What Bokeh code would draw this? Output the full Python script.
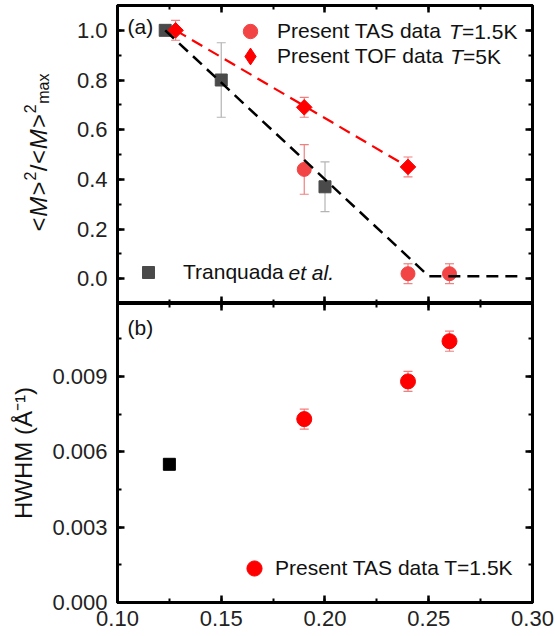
import math
from bokeh.plotting import figure
from bokeh.models import (ColumnDataSource, Whisker, TeeHead, Legend, LegendItem, Label,
                          LinearAxis, SingleIntervalTicker, NumeralTickFormatter, Range1d)
from bokeh.layouts import column, row
from bokeh.embed import file_html
from bokeh.resources import INLINE

# ---------------- data ----------------
# panel (a): normalised ordered moment squared
tas_x = [0.19, 0.24, 0.26]
tas_y = [0.44, 0.02, 0.02]
tas_err = [0.10, 0.04, 0.04]

tof_x = [0.128, 0.19, 0.24]
tof_y = [1.00, 0.69, 0.45]
tof_err = [0.04, 0.04, 0.04]

tranq_x = [0.123, 0.15, 0.20]
tranq_y = [1.00, 0.80, 0.37]
tranq_err = [0.0, 0.15, 0.10]

guide_black_x = [0.123, 0.25, 0.295]
guide_black_y = [1.00, 0.01, 0.01]
guide_red_x = [0.128, 0.24]
guide_red_y = [1.00, 0.45]

# panel (b): HWHM
hwhm_x = [0.19, 0.24, 0.26]
hwhm_y = [0.0073, 0.0088, 0.0104]
hwhm_err = [0.0004, 0.0004, 0.0004]
hwhm_tranq_x = [0.125]
hwhm_tranq_y = [0.0055]

# ---------------- style ----------------
FONT = "Liberation Sans"
TAS_RED = "#f24444"
RED = "#ff0000"
ERR_RED = "#f08080"
GRAY = "#4a4a4a"
ERR_GRAY = "#b4b4b4"
LEG_SIZE = "21px"
TXT = "#111111"
STRIP_W = 55   # width of the strip that carries the rotated title of panel (a)


def style_axis(ax, labels=True, fmt=None, standoff=10):
    ax.axis_line_width = 3
    ax.axis_line_color = "black"
    ax.major_tick_in = 7
    ax.major_tick_out = 0
    ax.minor_tick_in = 4
    ax.minor_tick_out = 0
    ax.major_tick_line_width = 2.5
    ax.minor_tick_line_width = 2
    ax.major_label_text_font = FONT
    if labels:
        ax.major_label_text_color = "#222222"
        ax.major_label_text_font_size = "22px"
        ax.major_label_standoff = standoff
    else:
        ax.major_label_text_color = None
        ax.major_label_text_font_size = "0px"
        ax.major_label_standoff = 0
    if fmt is not None:
        ax.formatter = NumeralTickFormatter(format=fmt)


def make_fig(width, height, yr, left_b, top_b, bottom_b):
    p = figure(width=width, height=height, x_range=xr, y_range=yr,
               output_backend="svg", toolbar_location=None,
               min_border_left=left_b, min_border_right=23,
               min_border_top=top_b, min_border_bottom=bottom_b,
               x_axis_location=None, y_axis_location=None)
    p.grid.visible = False
    p.outline_line_color = "black"
    p.outline_line_width = 3
    p.background_fill_color = "white"
    return p


def errbars(p, xs, ys, es, color):
    xs2 = [x for x, e in zip(xs, es) if e > 0]
    lo = [y - e for y, e in zip(ys, es) if e > 0]
    hi = [y + e for y, e in zip(ys, es) if e > 0]
    src = ColumnDataSource(dict(x=xs2, lo=lo, hi=hi))
    w = Whisker(source=src, base="x", lower="lo", upper="hi",
                line_color=color, line_width=1.2,
                upper_head=TeeHead(size=9, line_color=color, line_width=1.2),
                lower_head=TeeHead(size=9, line_color=color, line_width=1.2))
    w.level = "underlay"
    p.add_layout(w)


def one_legend(p, label, rend, cx, cy, g, text_x):
    """single-entry legend; marker centred at (cx, cy) frame px, text starting at text_x"""
    leg = Legend(items=[LegendItem(label=label, renderers=[rend])],
                 location=(int(round(cx - g / 2)), int(round(cy - g / 2))),
                 glyph_width=int(g), glyph_height=int(g), label_height=int(g),
                 label_standoff=int(round(text_x - (cx + g / 2))),
                 padding=0, margin=0, spacing=0,
                 border_line_color=None, background_fill_alpha=0,
                 label_text_font=FONT, label_text_font_size=LEG_SIZE,
                 label_text_color=TXT)
    p.add_layout(leg, "center")


def lab(p, x, y, text, style="normal", size=LEG_SIZE):
    p.add_layout(Label(x=x, y=y, x_units="screen", y_units="screen", text=text,
                       text_font=FONT, text_font_style=style, text_font_size=size,
                       text_baseline="middle", text_color=TXT))


xr = Range1d(0.10, 0.3000001)
x_ticker = SingleIntervalTicker(interval=0.05, num_minor_ticks=2)

# ================= panel (a) =================
top = make_fig(555 - STRIP_W, 303, Range1d(-0.1, 1.1), 117 - STRIP_W, 5, 0)
ya_ticker = SingleIntervalTicker(interval=0.2, num_minor_ticks=2)

ax_l = LinearAxis(ticker=ya_ticker)
style_axis(ax_l, True, "0.0")
top.add_layout(ax_l, "left")
ax_r = LinearAxis(ticker=ya_ticker)
style_axis(ax_r, False)
top.add_layout(ax_r, "right")
ax_t = LinearAxis(ticker=x_ticker)
style_axis(ax_t, False)
top.add_layout(ax_t, "above")
ax_b = LinearAxis(ticker=x_ticker)
style_axis(ax_b, False)
top.add_layout(ax_b, "below")

errbars(top, tranq_x, tranq_y, tranq_err, ERR_GRAY)
errbars(top, tas_x, tas_y, tas_err, ERR_RED)
errbars(top, tof_x, tof_y, tof_err, ERR_RED)

r_tranq = top.scatter(tranq_x, tranq_y, marker="square", size=12,
                      fill_color=GRAY, line_color=GRAY)
r_tas = top.scatter(tas_x, tas_y, marker="circle", size=14,
                    fill_color=TAS_RED, line_color=TAS_RED)
top.scatter(tof_x, tof_y, marker="square", size=11, angle=math.pi / 4,
            fill_color=RED, line_color=RED)
# legend key for the TOF diamonds (not drawn in the plot area)
r_tof_key = top.scatter(tof_x, tof_y, marker="diamond", size=17,
                        fill_color=RED, line_color=RED, visible=False)

top.line(guide_black_x, guide_black_y, line_color="black", line_width=2.5, line_dash="12 7")
top.line(guide_red_x, guide_red_y, line_color=RED, line_width=2.2, line_dash="12 7")

EM = 21.0
one_legend(top, "Present TAS data", r_tas, 133, 272, 36, 160)
one_legend(top, "Present TOF data", r_tof_key, 133, 247, 42, 160)
one_legend(top, "Tranquada", r_tranq, 31, 31, 30, 66)

t1 = 160 + 8.171 * EM
lab(top, t1, 272, "T", "italic")
lab(top, t1 + 0.611 * EM, 272, "=1.5K")
t2 = 160 + 8.226 * EM
lab(top, t2, 247, "T", "italic")
lab(top, t2 + 0.611 * EM, 247, "=5K")
lab(top, 66 + 5.0 * EM, 31, "et al.", "italic")
lab(top, 10, 277, "(a)")

# y axis title of panel (a): <M>^2/<M>^2_max, in its own narrow strip
ytitle = figure(width=STRIP_W, height=303, x_range=Range1d(0, 1), y_range=Range1d(0, 1),
                output_backend="svg", toolbar_location=None, min_border=0,
                x_axis_location=None, y_axis_location=None)
ytitle.grid.visible = False
ytitle.outline_line_color = None

pieces = [("<", 24, "normal", 0), ("M", 24, "italic", 0), (">", 24, "normal", 0),
          ("2", 16, "normal", -9), ("/", 24, "normal", 0), ("<", 24, "normal", 0),
          ("M", 24, "italic", 0), (">", 24, "normal", 0), ("2", 16, "normal", -9),
          ("max", 16, "normal", 5)]
widths = {"<": 0.584, ">": 0.584, "M": 0.833, "2": 0.556, "/": 0.278, "max": 1.889}
cy = 231.0
for txt, sz, st, shift in pieces:
    ytitle.add_layout(Label(x=38 + shift, y=303 - cy, x_units="screen", y_units="screen",
                            text=txt, angle=math.pi / 2, text_align="left",
                            text_baseline="alphabetic", text_font=FONT,
                            text_font_style=st, text_font_size=f"{sz}px",
                            text_color=TXT))
    cy -= widths[txt] * sz * 1.06

# ================= panel (b) =================
bot = make_fig(555, 333, Range1d(0.0, 0.0119), 117, 0, 34)
yb_ticker = SingleIntervalTicker(interval=0.003, num_minor_ticks=2)

bl = LinearAxis(ticker=yb_ticker)
style_axis(bl, True, "0.000")
bl.axis_label = "HWHM (Å⁻¹)"
bl.axis_label_text_font = FONT
bl.axis_label_text_font_style = "normal"
bl.axis_label_text_font_size = "24px"
bl.axis_label_text_color = TXT
bl.axis_label_standoff = 12
bot.add_layout(bl, "left")
br = LinearAxis(ticker=yb_ticker)
style_axis(br, False)
bot.add_layout(br, "right")
bt = LinearAxis(ticker=x_ticker)
style_axis(bt, False)
bot.add_layout(bt, "above")
bb = LinearAxis(ticker=x_ticker)
style_axis(bb, True, "0.00", standoff=8)
bot.add_layout(bb, "below")

errbars(bot, hwhm_x, hwhm_y, hwhm_err, ERR_RED)
r_h = bot.scatter(hwhm_x, hwhm_y, marker="circle", size=15, fill_color=RED, line_color=RED)
bot.scatter(hwhm_tranq_x, hwhm_tranq_y, marker="square", size=12,
            fill_color="black", line_color="black")

one_legend(bot, "Present TAS data T=1.5K", r_h, 137, 34, 38, 158)
lab(bot, 10, 275, "(b)")

layout = column(row(ytitle, top, spacing=0), bot, spacing=0)
open("out.html", "w").write(file_html(layout, INLINE))
